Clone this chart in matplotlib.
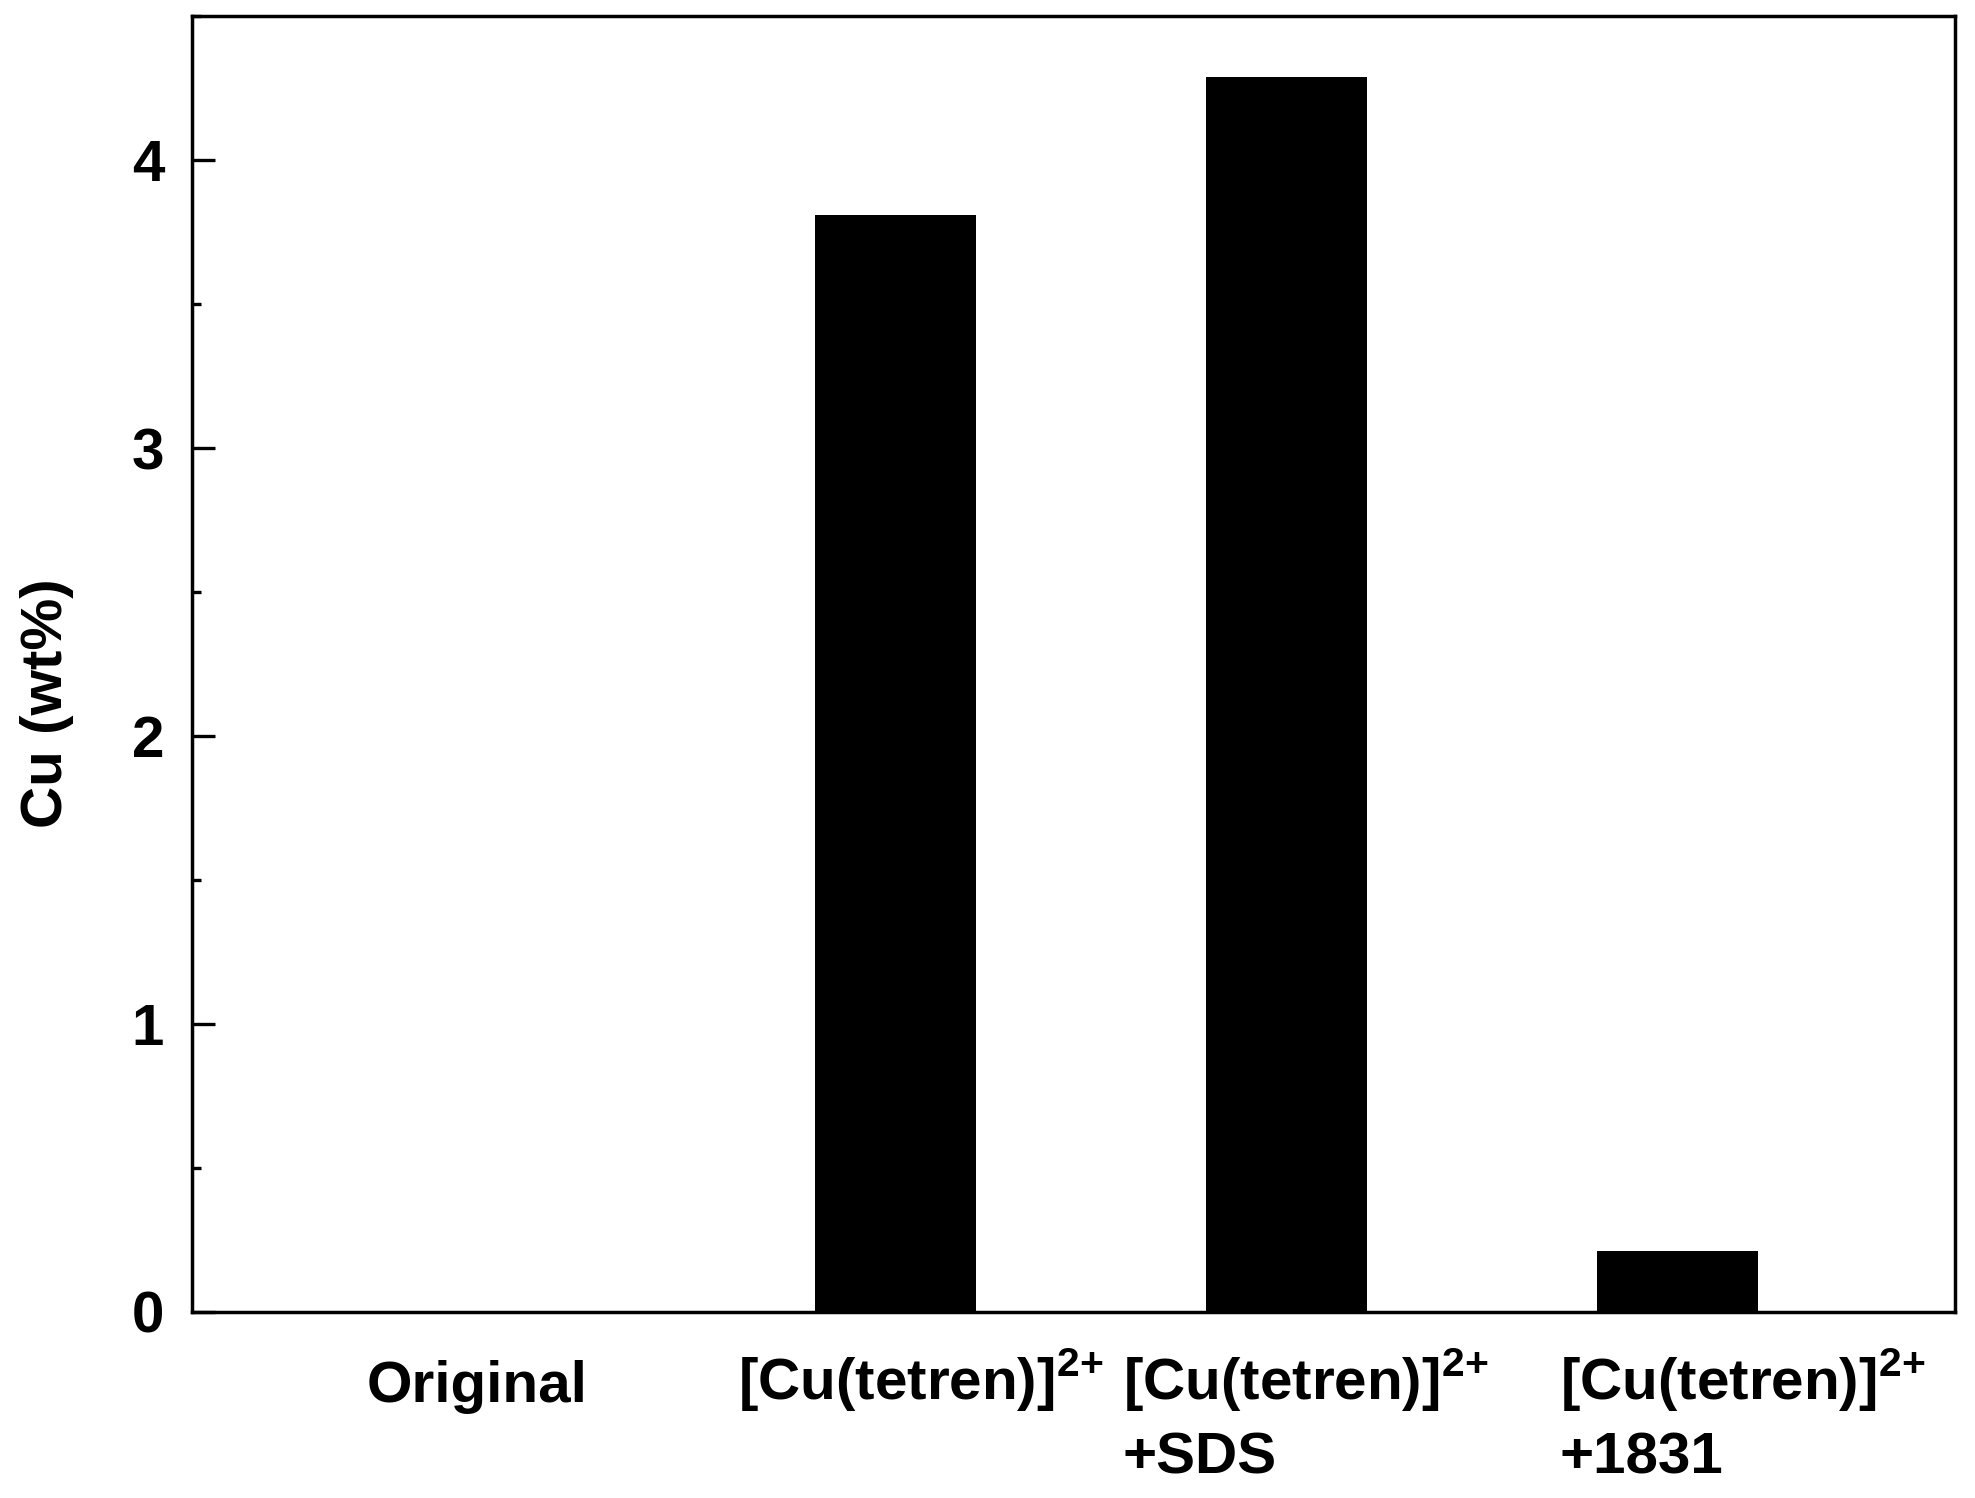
import matplotlib
matplotlib.use("Agg")
import matplotlib.pyplot as plt
from matplotlib.ticker import MultipleLocator
from matplotlib.transforms import ScaledTranslation

plt.rcParams['font.family'] = 'Liberation Sans'
plt.rcParams['font.weight'] = 'bold'
plt.rcParams['mathtext.fontset'] = 'custom'
plt.rcParams['mathtext.rm'] = 'Liberation Sans'
plt.rcParams['mathtext.bf'] = 'Liberation Sans:bold'

# data
samples = ["Original",
           "[Cu(tetren)]$^{2{+}}$",
           "[Cu(tetren)]$^{2{+}}$\n+SDS",
           "[Cu(tetren)]$^{2{+}}$\n+1831"]
cu_wt = [0.0, 3.81, 4.29, 0.21]

# small horizontal nudges of the category labels (pixels)
label_shift = [-28, 25, 19, 65]

fig = plt.figure(figsize=(19.75, 14.98), dpi=100)
ax = fig.add_axes([0.0972, 0.1242, 0.8927, 0.8651])

x = list(range(len(samples)))
ax.bar(x, cu_wt, width=0.41, color='black')

ax.set_xlim(-0.8, 3.71)
ax.set_ylim(0, 4.5)
ax.yaxis.set_major_locator(MultipleLocator(1))
ax.yaxis.set_minor_locator(MultipleLocator(0.5))
ax.tick_params(axis='y', which='major', direction='in', length=16.5, width=2.4,
               labelsize=42, pad=20)
ax.tick_params(axis='y', which='minor', direction='in', length=6.5, width=2.4)

ax.set_xticks(x)
ax.set_xticklabels([])
ax.tick_params(axis='x', length=0)

# category labels; one-line labels padded so first lines share a baseline
trans = ax.get_xaxis_transform()
for xi, s, dx in zip(x, samples, label_shift):
    lbl = s if "\n" in s else s + "\n "
    off = ScaledTranslation(dx / 100, -162 / 100, fig.dpi_scale_trans)
    ax.text(xi, 0, lbl, transform=trans + off, fontsize=42, ha='center',
            va='baseline', multialignment='left', linespacing=1.42)

for s in ax.spines.values():
    s.set_linewidth(2.5)

ax.set_ylabel("Cu (wt%)", fontsize=42, fontweight='bold')
ax.yaxis.set_label_coords(-0.067, 0.47)

plt.savefig("out.png", dpi=100)
